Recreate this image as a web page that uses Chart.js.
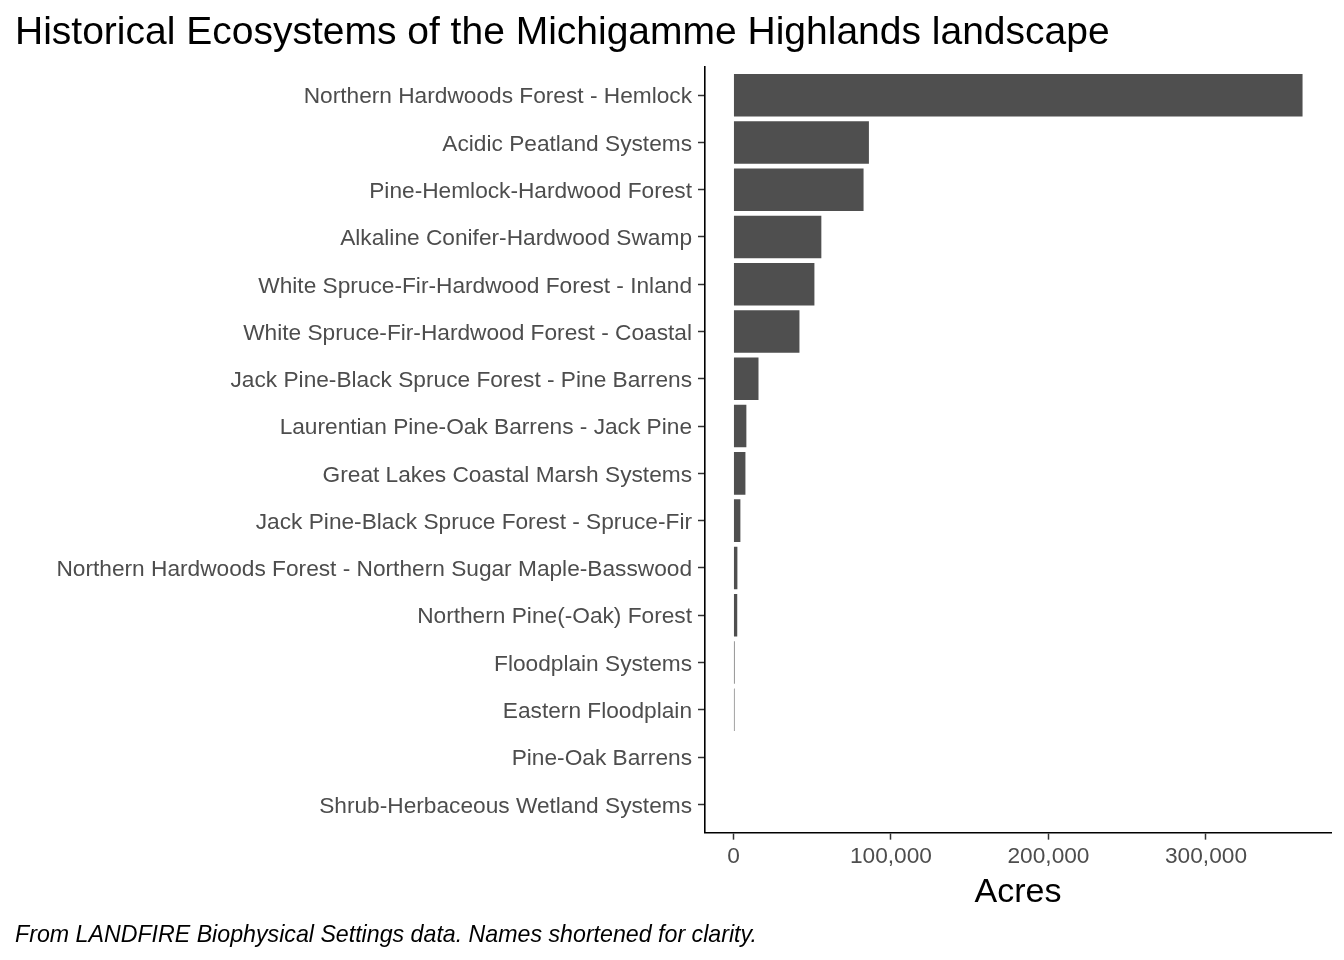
<!DOCTYPE html>
<html>
<head>
<meta charset="utf-8">
<script src="https://cdn.jsdelivr.net/npm/chart.js@4.4.1/dist/chart.umd.min.js"></script>
<style>
  html, body { margin: 0; padding: 0; background: #ffffff; }
  #wrap { width: 1344px; height: 960px; position: relative; }
</style>
</head>
<body>
<div id="wrap"><canvas id="c"></canvas></div>
<script>
const categories = [
  "Northern Hardwoods Forest - Hemlock",
  "Acidic Peatland Systems",
  "Pine-Hemlock-Hardwood Forest",
  "Alkaline Conifer-Hardwood Swamp",
  "White Spruce-Fir-Hardwood Forest - Inland",
  "White Spruce-Fir-Hardwood Forest - Coastal",
  "Jack Pine-Black Spruce Forest - Pine Barrens",
  "Laurentian Pine-Oak Barrens - Jack Pine",
  "Great Lakes Coastal Marsh Systems",
  "Jack Pine-Black Spruce Forest - Spruce-Fir",
  "Northern Hardwoods Forest - Northern Sugar Maple-Basswood",
  "Northern Pine(-Oak) Forest",
  "Floodplain Systems",
  "Eastern Floodplain",
  "Pine-Oak Barrens",
  "Shrub-Herbaceous Wetland Systems"
];
const acres = [361300, 86000, 82600, 55800, 51400, 41900, 15900, 8200, 7600, 4400, 2500, 2400, 700, 650, 0, 0];
const xTicks = [0, 100000, 200000, 300000];
const titleText = "Historical Ecosystems of the Michigamme Highlands landscape";
const xTitle = "Acres";
const captionText = "From LANDFIRE Biophysical Settings data. Names shortened for clarity.";

const maxVal = Math.max(...acres);
const xMin = -0.05 * maxVal;
const xMax = maxVal * 1.05;

const fmt = v => v.toLocaleString('en-US');
const FF = 'Liberation Sans, Arial, sans-serif';

new Chart(document.getElementById('c'), {
  type: 'bar',
  data: {
    datasets: [{
      data: acres.map((v, i) => ({ x: v, y: i })),
      backgroundColor: '#4f4f4f',
      borderWidth: 0,
      barPercentage: 0.9,
      categoryPercentage: 1.0
    }]
  },
  options: {
    indexAxis: 'y',
    responsive: true,
    maintainAspectRatio: false,
    animation: false,
    layout: { padding: { left: 15, right: 13, top: 0, bottom: 11 } },
    plugins: {
      legend: { display: false },
      tooltip: { enabled: false },
      title: {
        display: true,
        text: titleText,
        align: 'start',
        color: '#000000',
        font: { family: FF, size: 39, weight: 'normal', lineHeight: 1.2 },
        padding: { top: 10, bottom: 10 }
      },
      subtitle: {
        display: true,
        position: 'bottom',
        text: captionText,
        align: 'start',
        color: '#000000',
        font: { family: FF, size: 23.2, style: 'italic', weight: 'normal', lineHeight: 1.2 },
        padding: { top: 10, bottom: 0 }
      }
    },
    scales: {
      x: {
        type: 'linear',
        min: xMin,
        max: xMax,
        afterBuildTicks: s => { s.ticks = xTicks.map(v => ({ value: v })); },
        ticks: {
          color: '#4D4D4D',
          font: { family: FF, size: 22.7, lineHeight: 1.15 },
          padding: 4,
          maxRotation: 0,
          callback: v => fmt(v)
        },
        grid: { display: true, drawOnChartArea: false, drawTicks: true, tickLength: 7, tickColor: '#333333', tickWidth: 1.5 },
        border: { display: true, color: '#000000', width: 1.6 },
        title: {
          display: true,
          text: xTitle,
          color: '#000000',
          font: { family: FF, size: 34, lineHeight: 1.1 },
          padding: { top: 0, bottom: 0 }
        }
      },
      y: {
        type: 'linear',
        reverse: true,
        offset: false,
        min: -0.6,
        max: categories.length - 1 + 0.6,
        afterBuildTicks: s => { s.ticks = categories.map((c, i) => ({ value: i })); },
        afterFit: s => { s.width = 690; },
        ticks: {
          color: '#4D4D4D',
          font: { family: FF, size: 22.7, lineHeight: 1.2 },
          padding: 6,
          labelOffset: 2,
          autoSkip: false,
          callback: v => categories[v]
        },
        grid: { display: true, offset: false, drawOnChartArea: false, drawTicks: true, tickLength: 7, tickColor: '#333333', tickWidth: 1.5 },
        border: { display: true, color: '#000000', width: 1.6 }
      }
    }
  }
});
</script>
</body>
</html>
